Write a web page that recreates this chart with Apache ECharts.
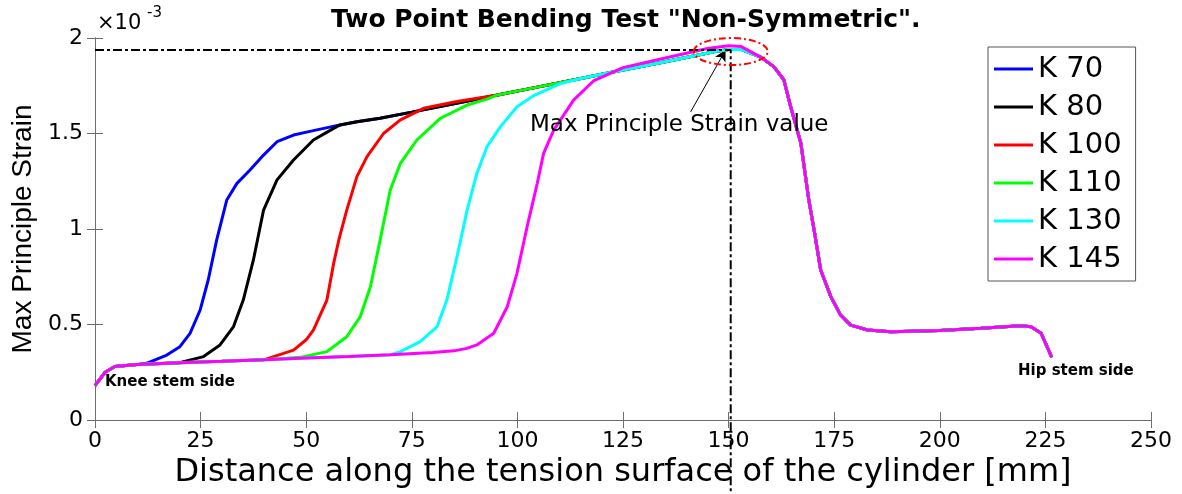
<!DOCTYPE html>
<html>
<head>
<meta charset="utf-8">
<script src="https://cdn.jsdelivr.net/npm/echarts@6/dist/echarts.min.js"></script>
<style>html,body{margin:0;padding:0;background:#fff}#chart{width:1182px;height:494px}</style>
</head>
<body>
<div id="chart"></div>
<script>
// ---- data (strain in units of 1e-3, distance in mm) ----
const seriesNames = ['K 70', 'K 80', 'K 100', 'K 110', 'K 130', 'K 145'];
const seriesColors = ['#0000ff', '#000000', '#ff0000', '#00ff00', '#00ffff', '#ff00ff'];

// shared lower baseline (knee side)
const baseX = [0, 2.4, 4.7, 10, 20, 30, 40, 50, 60, 70, 80, 85];
const baseY = [0.18, 0.25, 0.28, 0.29, 0.30, 0.307, 0.315, 0.325, 0.333, 0.342, 0.353, 0.362];

// individual rising parts
const k70X = [12.2, 17, 20.1, 22.5, 24.9, 26.8, 28.8, 31.2, 33.6, 36.7, 39.9, 43.1, 47, 51.7];
const k70Y = [0.297, 0.34, 0.384, 0.454, 0.576, 0.733, 0.942, 1.152, 1.239, 1.309, 1.387, 1.457, 1.492, 1.515];
const k80X = [20.1, 25.7, 29.6, 32.8, 35.1, 37.5, 39.9, 43.1, 47, 51.7, 56.5];
const k80Y = [0.305, 0.332, 0.393, 0.489, 0.628, 0.838, 1.099, 1.257, 1.361, 1.466, 1.527];
const k100X = [42.3, 47, 50, 51.7, 54.9, 56.5, 57.8, 59.6, 62, 64.4, 68.3, 72.3, 77.8, 85.7];
const k100Y = [0.332, 0.366, 0.42, 0.471, 0.628, 0.82, 0.95, 1.099, 1.274, 1.379, 1.50, 1.571, 1.632, 1.668];
const k110X = [48.6, 54.9, 59.6, 62.8, 65.2, 67.5, 69.9, 72.3, 76.2, 81.8, 88.1, 92.8];
const k110Y = [0.328, 0.358, 0.436, 0.541, 0.698, 0.942, 1.204, 1.344, 1.466, 1.58, 1.649, 1.68];
const k130X = [72.3, 77, 81, 83.3, 85.7, 88.1, 90.4, 92.8, 96, 99.9, 104, 110];
const k130Y = [0.358, 0.41, 0.489, 0.628, 0.855, 1.099, 1.291, 1.431, 1.536, 1.64, 1.70, 1.76];
const k145X = [88, 90.4, 94.4, 97.6, 99.9, 102.3, 104.7, 106.2, 108.6, 113.3, 118, 125, 135, 145, 150, 153];
const k145Y = [0.375, 0.393, 0.454, 0.593, 0.768, 1.012, 1.239, 1.396, 1.518, 1.675, 1.775, 1.845, 1.895, 1.945, 1.96, 1.955];

// shared upper plateau up to the peak
const upperX = [58, 62, 67.5, 75, 85, 95, 105, 115, 125, 135, 142, 147, 150];
const upperY = [1.545, 1.562, 1.58, 1.612, 1.656, 1.70, 1.744, 1.788, 1.832, 1.876, 1.907, 1.93, 1.94];

// shared fall-off and hip side
const tailX = [153, 157.6, 160.7, 163.1, 164.7, 167.1, 169, 170.2, 171.8, 174.2, 176.5, 178.9, 182.9, 188.4, 200, 209.7, 219.2, 221.6, 224, 226.5];
const tailY = [1.94, 1.90, 1.85, 1.78, 1.64, 1.45, 1.15, 1.0, 0.785, 0.646, 0.55, 0.497, 0.471, 0.462, 0.468, 0.48, 0.494, 0.488, 0.454, 0.328];

// max value guide lines and arrow
const guideX = [0, 150.5, 150.5];
const guideY = [1.937, 1.937, -0.4];
const arrowX = [141, 149.3];
const arrowY = [1.613, 1.937];
const peakX = 150.5, peakY = 1.929;

const xTickInterval = 25;
const yTickInterval = 0.5;

// ---- build ----
const risesX = [k70X, k80X, k100X, k110X, k130X, k145X];
const risesY = [k70Y, k80Y, k100Y, k110Y, k130Y, k145Y];

function buildCurve(rx, ry) {
  const pts = [];
  const x0 = rx[0], x1 = rx[rx.length - 1];
  baseX.forEach((x, i) => { if (x < x0) pts.push([x, baseY[i]]); });
  rx.forEach((x, i) => pts.push([x, ry[i]]));
  upperX.forEach((x, i) => { if (x > x1) pts.push([x, upperY[i]]); });
  tailX.forEach((x, i) => { if (x > x1) pts.push([x, tailY[i]]); });
  return pts;
}

const FONT = 'DejaVu Sans';
const chart = echarts.init(document.getElementById('chart'));

const series = seriesNames.map((n, i) => ({
  name: n, type: 'line', data: buildCurve(risesX[i], risesY[i]),
  symbol: 'none', smooth: false, color: seriesColors[i],
  lineStyle: { width: 3, color: seriesColors[i] }, z: 3 + i
}));
series.push({
  name: 'guide', type: 'line', data: guideX.map((x, i) => [x, guideY[i]]),
  symbol: 'none', clip: false, silent: true, z: 20,
  lineStyle: { color: '#000', width: 2, type: [9, 3, 3, 3] },
  markLine: {
    silent: true, symbol: ['none', 'arrow'], symbolSize: [9, 11],
    label: { show: false },
    lineStyle: { color: '#000', width: 1, type: 'solid' },
    data: [[{ coord: [arrowX[0], arrowY[0]] }, { coord: [arrowX[1], arrowY[1]] }]]
  }
});

const axisCommon = {
  type: 'value',
  axisLine: { show: true, lineStyle: { color: '#6e6e6e', width: 1 } },
  axisTick: { show: true, inside: true, length: 8, lineStyle: { color: '#6e6e6e' } },
  splitLine: { show: false }
};

chart.setOption({
  animation: false,
  backgroundColor: '#fff',
  title: {
    text: 'Two Point Bending Test "Non-Symmetric".',
    left: 326, top: 3,
    textStyle: { fontFamily: FONT, fontWeight: 'bold', fontSize: 25, color: '#000' }
  },
  legend: {
    data: seriesNames, orient: 'vertical', left: 988, top: 47,
    padding: [7, 14, 7, 6], itemGap: 8, itemWidth: 39, itemHeight: 3, icon: 'rect',
    backgroundColor: '#fff', borderColor: '#555', borderWidth: 1, borderRadius: 0,
    textStyle: { fontFamily: FONT, fontSize: 29, color: '#000', lineHeight: 30 }
  },
  grid: { left: 95, right: 31, top: 38, bottom: 74, containLabel: false },
  xAxis: [
    Object.assign({}, axisCommon, {
      position: 'bottom', min: 0, max: 250, interval: xTickInterval,
      name: 'Distance along the tension surface of the cylinder [mm]',
      nameLocation: 'middle', nameGap: 37,
      nameTextStyle: { fontFamily: FONT, fontSize: 32, color: '#000' },
      axisLabel: { fontFamily: FONT, fontSize: 22, color: '#000', margin: 10 }
    }),
    Object.assign({}, axisCommon, {
      position: 'top', min: 0, max: 250, interval: xTickInterval,
      axisLabel: { show: false }
    })
  ],
  yAxis: [
    Object.assign({}, axisCommon, {
      position: 'left', min: 0, max: 2, interval: yTickInterval,
      name: 'Max Principle Strain', nameLocation: 'middle', nameGap: 56,
      nameTextStyle: { fontFamily: 'Liberation Sans', fontSize: 28, color: '#000' },
      axisLabel: { fontFamily: FONT, fontSize: 22, color: '#000', margin: 12 }
    }),
    Object.assign({}, axisCommon, {
      position: 'right', min: 0, max: 2, interval: yTickInterval,
      axisLabel: { show: false }
    })
  ],
  series: series
});

const c = chart.convertToPixel({ xAxisIndex: 0, yAxisIndex: 0 }, [peakX, peakY]);
chart.setOption({
  graphic: [
    { type: 'text', left: 97, top: 13, style: { text: '×10', fontFamily: FONT, fontSize: 21, fill: '#000' } },
    { type: 'text', left: 147, top: 6, style: { text: '-3', fontFamily: FONT, fontSize: 15, fill: '#000' } },
    { type: 'text', left: 530, top: 114, style: { text: 'Max Principle Strain value', fontFamily: FONT, fontSize: 23, fill: '#000' }, z: 30 },
    { type: 'text', left: 105, top: 375, style: { text: 'Knee stem side', fontFamily: FONT, fontWeight: 'bold', fontSize: 15, fill: '#000' }, z: 30 },
    { type: 'text', left: 1018, top: 364, style: { text: 'Hip stem side', fontFamily: FONT, fontWeight: 'bold', fontSize: 15, fill: '#000' }, z: 30 },
    { type: 'ellipse', shape: { cx: c[0], cy: c[1], rx: 37, ry: 13.5 }, z: 30,
      style: { fill: 'none', stroke: '#ff0000', lineWidth: 2, lineDash: [7, 3, 2, 3] } }
  ]
});
</script>
</body>
</html>
